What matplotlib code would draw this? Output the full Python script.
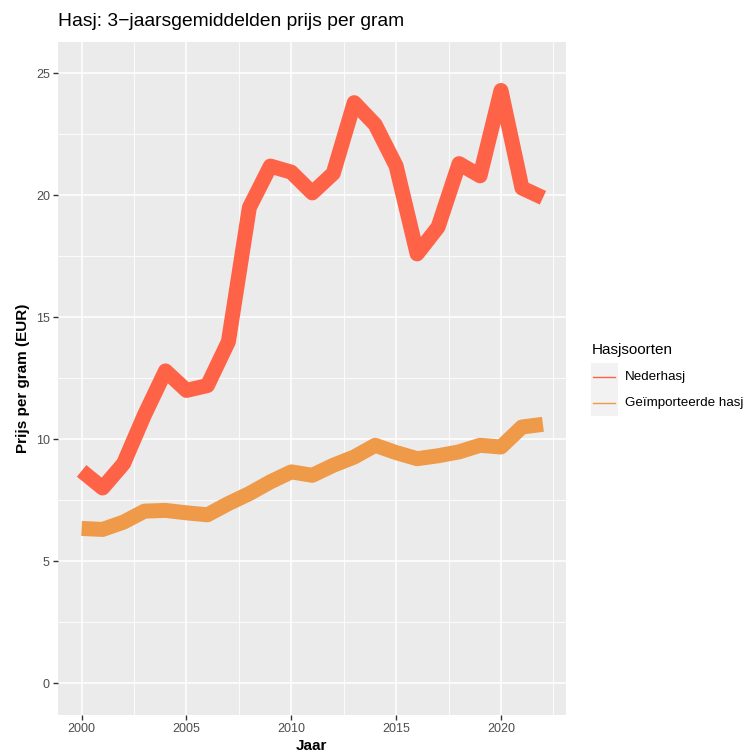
import matplotlib
matplotlib.use("Agg")
import matplotlib.pyplot as plt
from matplotlib.lines import Line2D
from matplotlib.patches import Rectangle
from matplotlib.ticker import MultipleLocator

plt.rcParams["font.family"] = ["Liberation Sans", "DejaVu Sans"]

# --- data ---
years = list(range(2000, 2023))
nederhasj = [8.7, 8.0, 9.0, 11.0, 12.8, 12.0, 12.2, 14.0, 19.5, 21.2, 20.95, 20.1,
             20.9, 23.8, 22.9, 21.2, 17.6, 18.7, 21.3, 20.8, 24.3, 20.3, 19.9]
geimporteerd = [6.34, 6.3, 6.6, 7.05, 7.08, 6.98, 6.9, 7.36, 7.77, 8.25, 8.66, 8.52,
                8.93, 9.27, 9.75, 9.45, 9.2, 9.32, 9.48, 9.75, 9.68, 10.5, 10.61]
series_names = ["Nederhasj", "Geïmporteerde hasj"]
series_colors = ["#FF6347", "#EE9A49"]

W, H = 749, 753
fig = plt.figure(figsize=(W / 100, H / 100), dpi=100)
ax = fig.add_axes([57.5 / W, 1 - 715 / H, (566 - 57.5) / W, (715 - 41.7) / H])

ax.set_facecolor("#EBEBEB")
for s in ax.spines.values():
    s.set_visible(False)

ax.xaxis.set_major_locator(MultipleLocator(5))
ax.xaxis.set_minor_locator(MultipleLocator(2.5))
ax.yaxis.set_major_locator(MultipleLocator(5))
ax.yaxis.set_minor_locator(MultipleLocator(2.5))
ax.grid(which="major", color="white", lw=1.1)
ax.grid(which="minor", color="white", lw=0.6)
ax.set_axisbelow(True)
ax.tick_params(which="major", length=3.5, width=1.0, color="#333333",
               labelcolor="#4D4D4D", labelsize=9, pad=2)
ax.tick_params(which="minor", length=0)

for vals, col in zip([nederhasj, geimporteerd], series_colors):
    ax.plot(years, vals, color=col, lw=10.8, solid_capstyle="butt",
            solid_joinstyle="round")

ax.set_xlim(1998.85, 2023.1)
ax.set_ylim(-1.31, 26.3)

ax.set_xlabel("Jaar", fontsize=11, fontweight="bold", labelpad=3)
ax.set_ylabel("Prijs per gram (EUR)", fontsize=11, fontweight="bold", labelpad=4)
fig.text(57.5 / W, 1 - 22 / H, "Hasj: 3\u2212jaarsgemiddelden prijs per gram",
         fontsize=13.9, va="center", ha="left")

# legend (drawn by hand, ggplot style)
fig.text(591.5 / W, 1 - 350 / H, "Hasjsoorten", fontsize=11, va="center", ha="left")
fig.add_artist(Rectangle((590.7 / W, 1 - 416 / H), 27 / W, 52.7 / H,
                         transform=fig.transFigure, facecolor="#F2F2F2",
                         edgecolor="none"))
for i, (name, col) in enumerate(zip(series_names, series_colors)):
    yy = 1 - (376.7 + i * 26.7) / H
    fig.add_artist(Line2D([593 / W, 615 / W], [yy, yy], color=col, lw=1.0,
                          transform=fig.transFigure))
    fig.text(625 / W, yy, name, fontsize=9.6, va="center", ha="left")

fig.savefig("out.png", dpi=100)
